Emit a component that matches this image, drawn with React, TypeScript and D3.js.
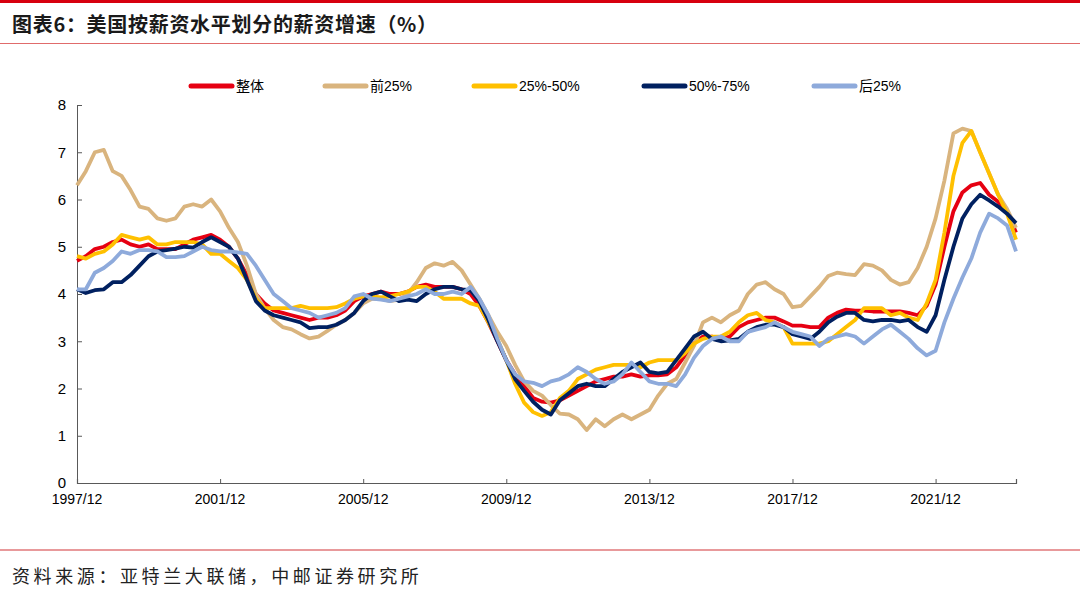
import { useEffect, useRef } from "react"
import * as d3 from "d3"

// quarterly readings, 1997/12 .. 2024/03
const startDate = new Date(1997, 11, 1)
const endDate = new Date(2024, 2, 1)

const overall = [
  4.7, 4.8, 4.95, 5.0, 5.1, 5.15, 5.05, 5.0, 5.05, 4.95, 4.95, 4.95, 5.05, 5.15, 5.2, 5.25, 5.15, 5.0, 4.75, 4.4, 4.0, 3.8, 3.65, 3.6, 3.55,
  3.5, 3.45, 3.5, 3.5, 3.55, 3.65, 3.85, 3.95, 4.0, 4.05, 4.0, 4.0, 4.05, 4.15, 4.2, 4.15, 4.15, 4.15, 4.1, 4.0, 3.75, 3.4, 3.0, 2.6, 2.3, 2.05,
  1.8, 1.72, 1.7, 1.75, 1.85, 1.95, 2.05, 2.15, 2.2, 2.25, 2.25, 2.3, 2.25, 2.28, 2.28, 2.3, 2.45, 2.7, 2.95, 3.1, 3.1, 3.05, 3.1, 3.3, 3.4, 3.45,
  3.5, 3.5, 3.42, 3.33, 3.33, 3.3, 3.3, 3.5, 3.6, 3.67, 3.65, 3.65, 3.63, 3.63, 3.63, 3.63, 3.6, 3.55, 3.75, 4.2, 5.0, 5.75, 6.15, 6.3, 6.35, 6.1, 5.95, 5.75, 5.3,
]
const top25 = [
  6.3, 6.6, 7.0, 7.05, 6.6, 6.5, 6.2, 5.85, 5.8, 5.6, 5.55, 5.6, 5.85, 5.9, 5.85, 6.0, 5.75, 5.4, 5.1, 4.6, 4.0, 3.7, 3.45, 3.3, 3.25,
  3.15, 3.06, 3.1, 3.22, 3.35, 3.45, 3.6, 3.8, 3.9, 3.9, 3.85, 3.88, 4.0, 4.25, 4.55, 4.65, 4.6, 4.68, 4.5, 4.2, 3.9, 3.55, 3.2, 2.9, 2.5, 2.15,
  1.95, 1.85, 1.65, 1.47, 1.45, 1.35, 1.12, 1.35, 1.2, 1.35, 1.45, 1.35, 1.45, 1.55, 1.85, 2.1, 2.2, 2.55, 2.9, 3.4, 3.5, 3.4, 3.55, 3.65, 4.0, 4.2,
  4.25, 4.1, 4.0, 3.72, 3.75, 3.95, 4.15, 4.38, 4.45, 4.42, 4.4, 4.63, 4.6, 4.5, 4.3, 4.2, 4.25, 4.55, 5.0, 5.6, 6.4, 7.4, 7.5, 7.45, 7.0, 6.55, 6.1, 5.8, 5.4,
]
const q25to50 = [
  4.8, 4.75, 4.85, 4.9, 5.05, 5.25, 5.2, 5.15, 5.2, 5.05, 5.05, 5.1, 5.1, 5.1, 5.05, 4.85, 4.85, 4.7, 4.55, 4.3, 3.9, 3.7, 3.7, 3.7, 3.7,
  3.75, 3.7, 3.7, 3.7, 3.72, 3.8, 3.9, 3.95, 3.95, 3.93, 3.95, 4.0, 4.05, 4.15, 4.15, 4.05, 3.9, 3.9, 3.9, 3.8, 3.75, 3.4, 3.05, 2.6, 2.1, 1.7,
  1.5, 1.42, 1.5, 1.8, 1.95, 2.2, 2.3, 2.4, 2.45, 2.5, 2.5, 2.5, 2.45, 2.55, 2.6, 2.6, 2.6, 2.75, 2.95, 3.05, 3.1, 3.1, 3.2, 3.4, 3.55, 3.6,
  3.45, 3.4, 3.3, 2.95, 2.95, 2.95, 2.95, 3.0, 3.15, 3.3, 3.45, 3.7, 3.7, 3.7, 3.55, 3.6, 3.5, 3.45, 3.8, 4.3, 5.3, 6.5, 7.2, 7.45, 7.0, 6.55, 6.1, 5.7, 5.15,
]
const q50to75 = [
  4.1, 4.02, 4.08, 4.1, 4.25, 4.25, 4.4, 4.6, 4.8, 4.9, 4.93, 4.96, 5.0, 4.98, 5.1, 5.2, 5.1, 5.0, 4.75, 4.3, 3.85, 3.65, 3.55, 3.5, 3.45,
  3.4, 3.28, 3.3, 3.3, 3.35, 3.45, 3.6, 3.85, 4.0, 4.05, 3.95, 3.85, 3.88, 3.85, 4.0, 4.1, 4.15, 4.15, 4.1, 4.08, 3.85, 3.45, 3.0, 2.6, 2.2, 1.95,
  1.72, 1.55, 1.45, 1.75, 1.9, 2.05, 2.1, 2.05, 2.05, 2.2, 2.35, 2.45, 2.55, 2.35, 2.32, 2.35, 2.6, 2.85, 3.1, 3.2, 3.05, 3.0, 3.02, 3.05, 3.2, 3.3,
  3.35, 3.35, 3.3, 3.15, 3.1, 3.05, 3.2, 3.4, 3.52, 3.6, 3.6, 3.45, 3.42, 3.45, 3.45, 3.42, 3.45, 3.3, 3.2, 3.55, 4.3, 5.0, 5.6, 5.9, 6.1, 5.98, 5.85, 5.7, 5.5,
]
const bottom25 = [
  4.1, 4.1, 4.45, 4.55, 4.7, 4.9, 4.85, 4.93, 4.93, 4.9, 4.78, 4.78, 4.8, 4.9, 5.0, 4.93, 4.9, 4.9, 4.88, 4.85, 4.6, 4.3, 4.0, 3.85, 3.7,
  3.65, 3.6, 3.5, 3.55, 3.6, 3.7, 3.95, 4.0, 3.9, 3.88, 3.85, 3.9, 3.95, 4.0, 4.1, 4.0, 4.0, 4.05, 4.0, 4.15, 3.9, 3.55, 3.05, 2.6, 2.3, 2.15,
  2.12, 2.05, 2.15, 2.2, 2.3, 2.45, 2.35, 2.2, 2.1, 2.15, 2.3, 2.55, 2.35, 2.15, 2.1, 2.1, 2.05, 2.3, 2.65, 2.9, 3.05, 3.1, 3.0, 3.0, 3.2, 3.25,
  3.3, 3.4, 3.3, 3.2, 3.15, 3.1, 2.9, 3.05, 3.1, 3.15, 3.1, 2.95, 3.1, 3.25, 3.35, 3.2, 3.05, 2.85, 2.7, 2.8, 3.4, 3.9, 4.35, 4.75, 5.3, 5.7, 5.6, 5.45, 4.9,
]

const seriesNames = ["整体", "前25%", "25%-50%", "50%-75%", "后25%"]
const seriesColors = ["#e60012", "#d9b47e", "#ffc000", "#002060", "#8eaadb"]
const seriesValues = [overall, top25, q25to50, q50to75, bottom25]
const legendX = [189, 323, 472, 642, 812]

const yTicks = [0, 1, 2, 3, 4, 5, 6, 7, 8]
const xTickYears = [1997, 2001, 2005, 2009, 2013, 2017, 2021]

const font = "'Liberation Sans', Arial, sans-serif"
const cjk = "'Noto Sans CJK SC', sans-serif"

export default function App() {
  const svgRef = useRef<SVGSVGElement>(null)

  useEffect(() => {
    if (!svgRef.current) return
    const W = 1080
    const H = 596
    const svg = d3.select(svgRef.current)
    svg.selectAll("*").remove()
    svg.attr("width", W).attr("height", H)

    // * Frame: red bar, title, separators, source
    svg.append("rect").attr("x", 0).attr("y", 0).attr("width", W).attr("height", 3).attr("fill", "#d7000f")
    svg
      .append("text")
      .attr("x", 12)
      .attr("y", 32)
      .attr("font-family", cjk)
      .attr("font-size", "20px")
      .attr("font-weight", "700")
      .attr("letter-spacing", "0.7px")
      .attr("fill", "#1a1a1a")
      .text("图表6：美国按薪资水平划分的薪资增速（%）")
    svg.append("line").attr("x1", 0).attr("x2", W).attr("y1", 43.5).attr("y2", 43.5).attr("stroke", "#e06b6b").attr("stroke-width", 1)
    svg.append("line").attr("x1", 0).attr("x2", W).attr("y1", 550).attr("y2", 550).attr("stroke", "#e8999b").attr("stroke-width", 2)
    svg
      .append("text")
      .attr("x", 12)
      .attr("y", 583)
      .attr("font-family", cjk)
      .attr("font-size", "18px")
      .attr("letter-spacing", "3.6px")
      .attr("fill", "#222")
      .text("资料来源：亚特兰大联储，中邮证券研究所")

    // * Scales
    const x = d3.scaleTime().domain([startDate, endDate]).range([77, 1016])
    const y = d3.scaleLinear().domain([0, 8]).range([483, 105])
    const dates = overall.map((_, i) => d3.timeMonth.offset(startDate, i * 3))

    // * Y axis
    const yAxis = svg
      .append("g")
      .attr("transform", "translate(77,0)")
      .call(d3.axisRight(y).tickValues(yTicks).tickSize(5).tickFormat(() => ""))
    yAxis.select(".domain").attr("stroke", "#595959")
    yAxis.selectAll(".tick line").attr("stroke", "#595959")
    yTicks.forEach((t) => {
      svg
        .append("text")
        .attr("x", 66)
        .attr("y", y(t))
        .attr("dy", "0.36em")
        .attr("text-anchor", "end")
        .attr("font-family", font)
        .attr("font-size", "15px")
        .attr("fill", "#000")
        .text(t)
    })

    // * X axis
    const xTicks = xTickYears.map((yr) => new Date(yr, 11, 1))
    const xAxis = svg
      .append("g")
      .attr("transform", "translate(0,483)")
      .call(d3.axisTop(x).tickValues(xTicks).tickSize(4).tickFormat(() => ""))
    xAxis.select(".domain").attr("stroke", "#595959").attr("stroke-width", 1.2)
    xAxis.selectAll(".tick line").attr("stroke", "#595959")
    xTicks.forEach((d) => {
      svg
        .append("text")
        .attr("x", x(d))
        .attr("y", 504)
        .attr("text-anchor", "middle")
        .attr("font-family", font)
        .attr("font-size", "14px")
        .attr("fill", "#000")
        .text(d3.timeFormat("%Y/%m")(d))
    })

    // * Lines
    const line = d3
      .line<number>()
      .x((_, i) => x(dates[i]))
      .y((v) => y(v))
    seriesValues.forEach((vals, k) => {
      svg
        .append("path")
        .datum(vals)
        .attr("d", line)
        .attr("fill", "none")
        .attr("stroke", seriesColors[k])
        .attr("stroke-width", 3.8)
        .attr("stroke-linejoin", "round")
    })

    // * Legend
    seriesNames.forEach((name, k) => {
      const lx = legendX[k]
      svg
        .append("line")
        .attr("x1", lx + 2)
        .attr("x2", lx + 43)
        .attr("y1", 86)
        .attr("y2", 86)
        .attr("stroke", seriesColors[k])
        .attr("stroke-width", 5)
        .attr("stroke-linecap", "round")
      svg
        .append("text")
        .attr("x", lx + 47)
        .attr("y", 86)
        .attr("dy", "0.36em")
        .attr("font-family", `${font}, ${cjk}`)
        .attr("font-size", "14px")
        .attr("fill", "#000")
        .text(name)
    })
  }, [])

  return (
    <div style={{ position: "absolute", left: 0, top: 0 }}>
      <svg ref={svgRef} style={{ display: "block", background: "#fff" }}></svg>
    </div>
  )
}
